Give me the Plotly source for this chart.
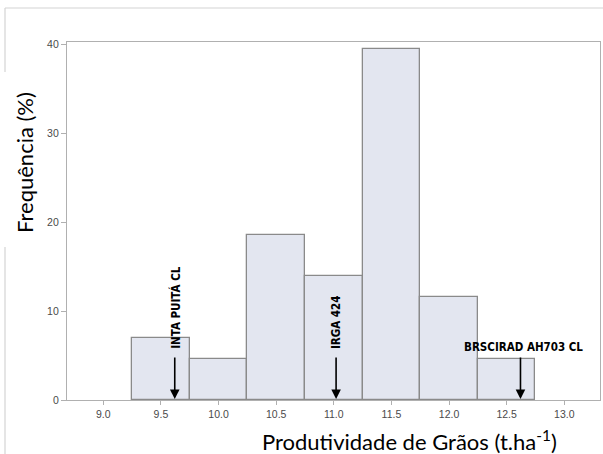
import plotly.graph_objects as go

# Histogram classes (bin centres, t/ha) and relative frequency of genotypes (%)
bin_centers = [9.5, 10.0, 10.5, 11.0, 11.5, 12.0, 12.5]
frequency = [6.98, 4.65, 18.60, 13.95, 39.53, 11.63, 4.65]
bin_width = 0.5

# Reference cultivars marked on the axis
cultivars = ["INTA PUITÁ CL", "IRGA 424", "BRSCIRAD AH703 CL"]
cultivar_yield = [9.62, 11.02, 12.62]

x_ticks = [9.0, 9.5, 10.0, 10.5, 11.0, 11.5, 12.0, 12.5, 13.0]
y_ticks = [0, 10, 20, 30, 40]

fig = go.Figure()
fig.add_trace(go.Bar(
    x=bin_centers, y=frequency, width=bin_width,
    marker=dict(color="#e3e6f0", line=dict(color="#8a8a8a", width=1.3)),
    hoverinfo="x+y",
))

label_font = dict(family="DejaVu Sans Condensed, Liberation Sans", size=11.5, color="black")
annotations = []
for name, xv in zip(cultivars, cultivar_yield):
    # arrow pointing down to the cultivar's yield
    annotations.append(dict(x=xv, y=0, xref="x", yref="y", text="", showarrow=True,
                            ax=0, ay=-44, arrowhead=2, arrowsize=1.2, arrowwidth=1.6,
                            arrowcolor="black", standoff=1))
    if name == "BRSCIRAD AH703 CL":
        annotations.append(dict(x=xv, y=0, xref="x", yref="y", text="<b>%s</b>" % name,
                                showarrow=False, xanchor="center", yanchor="middle",
                                xshift=3, yshift=53, font=label_font))
    else:
        annotations.append(dict(x=xv, y=0, xref="x", yref="y", text="<b>%s</b>" % name,
                                showarrow=False, textangle=-90, xanchor="center",
                                yanchor="bottom", yshift=49, font=label_font))

title_font = dict(family="Lato, Carlito, Open Sans", size=22, color="black")
annotations.append(dict(x=24, y=163, xref="paper", yref="paper", text="Frequência (%)",
                        showarrow=False, textangle=-90, xanchor="center",
                        yanchor="middle", font=title_font))
annotations.append(dict(x=409, y=440, xref="paper", yref="paper",
                        text="Produtividade de Grãos (t.ha<sup>-1</sup>)",
                        showarrow=False, xanchor="center", yanchor="middle",
                        font=title_font))

# convert pixel positions of the free-standing titles to paper coordinates
L, R, T, B, W, H = 67, 3, 42, 54, 603, 454
pw, ph = W - L - R, H - T - B
for a in annotations[-2:]:
    a["x"] = (a["x"] - L) / pw
    a["y"] = (H - B - a["y"]) / ph

def px_x(v):
    return (v - L) / pw

def px_y(v):
    return (H - B - v) / ph

border = dict(color="#d4d4d4", width=1.2)
shapes = [
    dict(type="line", xref="paper", yref="paper", x0=px_x(5), x1=px_x(603),
         y0=px_y(8), y1=px_y(8), line=border),
    dict(type="line", xref="paper", yref="paper", x0=px_x(5), x1=px_x(5),
         y0=px_y(8), y1=px_y(72), line=border),
    dict(type="line", xref="paper", yref="paper", x0=px_x(5), x1=px_x(5),
         y0=px_y(247), y1=px_y(454), line=border),
]

tick_font = dict(family="Liberation Sans, Arial", size=10.5, color="#4a4a4a")
fig.update_layout(
    width=W, height=H, autosize=False,
    margin=dict(l=L, r=R, t=T, b=B, pad=0),
    paper_bgcolor="white", plot_bgcolor="white",
    showlegend=False, bargap=0,
    annotations=annotations, shapes=shapes,
    xaxis=dict(range=[8.685, 13.31], tickvals=x_ticks, tickformat=".1f",
               showgrid=False, zeroline=False, showline=True, linecolor="#b0b0b0",
               linewidth=1.2, mirror=True, ticks="outside", ticklen=4,
               tickcolor="#b0b0b0", tickfont=tick_font),
    yaxis=dict(range=[0, 40.28], tickvals=y_ticks, showgrid=False, zeroline=False,
               showline=True, linecolor="#b0b0b0", linewidth=1.2, mirror=True,
               ticks="outside", ticklen=5, tickcolor="#b0b0b0", tickfont=tick_font),
)

fig.write_html("out.html")
